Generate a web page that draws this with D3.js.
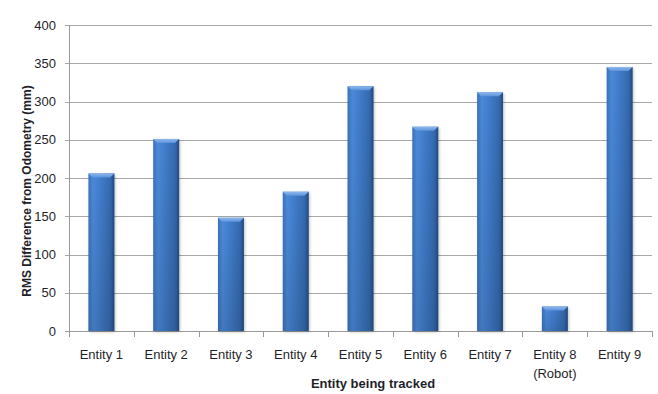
<!DOCTYPE html>
<html>
<head>
<meta charset="utf-8">
<script src="https://cdn.jsdelivr.net/npm/d3@7/dist/d3.min.js"></script>
<style>
  html, body { margin: 0; padding: 0; background: #fff; }
  svg { display: block; }
  text { font-family: "Liberation Sans", Arial, sans-serif; fill: #1f1f2a; }
</style>
</head>
<body>
<svg id="chart" width="658" height="394"></svg>
<script>
// Entities tracked and their RMS difference from odometry (mm)
const categories = ["Entity 1", "Entity 2", "Entity 3", "Entity 4", "Entity 5",
                    "Entity 6", "Entity 7", "Entity 8\n(Robot)", "Entity 9"];
const rmsValues = [206, 251, 148, 182, 320, 267, 312, 32, 345];
const yTicks = [0, 50, 100, 150, 200, 250, 300, 350, 400];

const svg = d3.select("#chart");
const plotLeft = 69, plotRight = 652, plotTop = 25, plotBottom = 331;

const x = d3.scaleBand().domain(categories).range([plotLeft, plotRight]).paddingInner(0.6).paddingOuter(0.3);
const xEdge = d3.scaleBand().domain(categories).range([plotLeft, plotRight]);
const y = d3.scaleLinear().domain([0, 400]).range([plotBottom, plotTop]);

// gradients for the bevelled bars
const defs = svg.append("defs");
const side = defs.append("linearGradient").attr("id", "barSide").attr("x1", 0).attr("x2", 1).attr("y1", 0).attr("y2", 0);
side.append("stop").attr("offset", "0%").attr("stop-color", "#3b72ba");
side.append("stop").attr("offset", "18%").attr("stop-color", "#4b89d8");
side.append("stop").attr("offset", "45%").attr("stop-color", "#417dcc");
side.append("stop").attr("offset", "82%").attr("stop-color", "#366bb0");
side.append("stop").attr("offset", "100%").attr("stop-color", "#28558f");
const shade = defs.append("linearGradient").attr("id", "barShade").attr("x1", 0).attr("x2", 0).attr("y1", 0).attr("y2", 1);
shade.append("stop").attr("offset", "0%").attr("stop-color", "#000").attr("stop-opacity", 0);
shade.append("stop").attr("offset", "100%").attr("stop-color", "#000").attr("stop-opacity", 0.12);
const topG = defs.append("linearGradient").attr("id", "barTop").attr("x1", 0).attr("x2", 0).attr("y1", 0).attr("y2", 1);
topG.append("stop").attr("offset", "0%").attr("stop-color", "#8fb8ec");
topG.append("stop").attr("offset", "100%").attr("stop-color", "#5c93dc");
const blur = defs.append("filter").attr("id", "shadow").attr("x", "-30%").attr("y", "-10%").attr("width", "160%").attr("height", "130%");
blur.append("feGaussianBlur").attr("stdDeviation", 1.4);

// horizontal gridlines with small outer ticks
svg.append("g").selectAll("line").data(yTicks).join("line")
  .attr("x1", plotLeft - 4).attr("x2", plotRight)
  .attr("y1", d => Math.round(y(d)) + 0.5).attr("y2", d => Math.round(y(d)) + 0.5)
  .attr("stroke", d => d === 0 ? "#9a9a9a" : "#a8a8a8").attr("stroke-width", 1);

// y axis line
svg.append("line").attr("x1", plotLeft + 0.5).attr("x2", plotLeft + 0.5)
  .attr("y1", plotTop).attr("y2", plotBottom + 0.5).attr("stroke", "#9a9a9a");

// x axis category boundary ticks
const bounds = categories.map(c => xEdge(c)).concat([plotRight]);
svg.append("g").selectAll("line").data(bounds).join("line")
  .attr("x1", d => Math.round(d) + 0.5).attr("x2", d => Math.round(d) + 0.5)
  .attr("y1", plotBottom).attr("y2", plotBottom + 6).attr("stroke", "#9a9a9a");

// y tick labels
svg.append("g").selectAll("text").data(yTicks).join("text")
  .attr("x", 56).attr("y", d => y(d) + 4.5)
  .attr("text-anchor", "end").attr("font-size", 13)
  .text(d => d);

// bars
const bw = x.bandwidth();
const bars = svg.append("g").selectAll("g").data(categories.map((c, i) => ({ c, v: rmsValues[i] }))).join("g");
bars.append("rect")
  .attr("x", d => x(d.c) + 1).attr("y", d => y(d.v) + 1)
  .attr("width", bw).attr("height", d => plotBottom - y(d.v))
  .attr("fill", "#000").attr("opacity", 0.25).attr("filter", "url(#shadow)");
bars.append("rect")
  .attr("x", d => x(d.c)).attr("y", d => y(d.v))
  .attr("width", bw).attr("height", d => plotBottom - y(d.v))
  .attr("fill", "url(#barSide)");
bars.append("rect")
  .attr("x", d => x(d.c)).attr("y", d => y(d.v))
  .attr("width", bw).attr("height", d => plotBottom - y(d.v))
  .attr("fill", "url(#barShade)");
bars.append("path")
  .attr("d", d => {
    const x0 = x(d.c), x1 = x0 + bw, t = y(d.v), b = 4;
    return `M${x0},${t}L${x1},${t}L${x1 - b},${t + b}L${x0 + b},${t + b}Z`;
  })
  .attr("fill", "url(#barTop)");
bars.append("path")
  .attr("d", d => {
    const x0 = x(d.c), x1 = x0 + bw, t = y(d.v), b = 4;
    return `M${x1},${t}L${x1},${plotBottom}L${x1 - 2},${plotBottom}L${x1 - 2},${t + b}L${x1 - b},${t + b}Z`;
  })
  .attr("fill", "#214a80").attr("opacity", 0.45);

// category labels
const cat = svg.append("g").selectAll("text").data(categories).join("text")
  .attr("x", d => x(d) + bw / 2).attr("y", 359)
  .attr("text-anchor", "middle").attr("font-size", 13);
cat.each(function(d) {
  const lines = d.split("\n");
  d3.select(this).selectAll("tspan").data(lines).join("tspan")
    .attr("x", x(d) + bw / 2).attr("dy", (l, i) => i === 0 ? 0 : 18.5)
    .text(l => l);
});

// axis titles
svg.append("text").attr("x", 373).attr("y", 388)
  .attr("text-anchor", "middle").attr("font-size", 13).attr("font-weight", "bold")
  .text("Entity being tracked");
svg.append("text").attr("transform", "translate(31,191) rotate(-90)")
  .attr("text-anchor", "middle").attr("font-size", 12).attr("font-weight", "bold")
  .text("RMS Difference from Odometry (mm)");
</script>
</body>
</html>
